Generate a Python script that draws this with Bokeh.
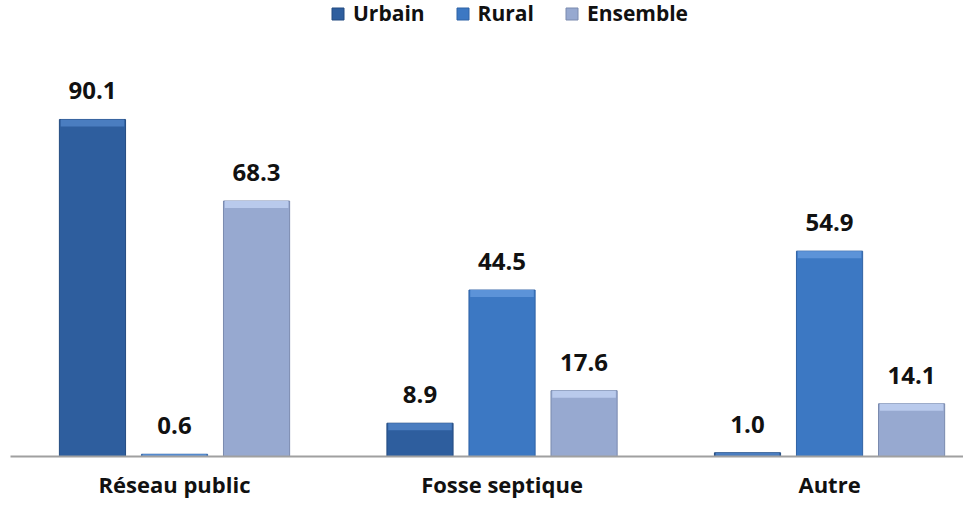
from bokeh.plotting import figure
from bokeh.models import ColumnDataSource, LabelSet, Legend, LegendItem, Range1d, FixedTicker
from bokeh.core.properties import value
from bokeh.embed import file_html
from bokeh.resources import INLINE

categories = ["Réseau public", "Fosse septique", "Autre"]
series = ["Urbain", "Rural", "Ensemble"]
urbain = [90.1, 8.9, 1.0]
rural = [0.6, 44.5, 54.9]
ensemble = [68.3, 17.6, 14.1]

fills = ["#2E5E9E", "#3C78C3", "#97A9D0"]
lines = ["#234B80", "#2F62A5", "#7A8AAE"]
tops = ["#4A7DC0", "#5C93D8", "#B9CAEC"]
offsets = [-0.2505, 0.0, 0.2505]
bar_w = 0.202

FONT = "Open Sans"

p = figure(width=963, height=502, output_backend="svg", toolbar_location=None,
           x_range=Range1d(-0.5008, 2.409), y_range=Range1d(0, 121.9),
           min_border_left=10, min_border_right=0, min_border_top=0, min_border_bottom=46)
p.outline_line_color = None
p.xgrid.visible = False
p.ygrid.visible = False
p.yaxis.visible = False
p.background_fill_color = "white"
p.border_fill_color = "white"

px_per_unit = 456 / 121.9
band = 7 / px_per_unit

items = []
for s, vals, f, lc, tc, off in zip(series, [urbain, rural, ensemble], fills, lines, tops, offsets):
    xs = [i + off for i in range(len(categories))]
    src = ColumnDataSource(dict(x=xs, top=vals, lab=[f"{v:.1f}" for v in vals],
                                btop=vals, bbot=[max(v - band, 0) for v in vals]))
    r = p.vbar(x="x", top="top", bottom=0, width=bar_w, source=src,
               fill_color=f, line_color=lc, line_width=1)
    p.vbar(x="x", top="btop", bottom="bbot", width=bar_w * 0.96, source=src,
           fill_color=tc, line_color=None)
    lbl = LabelSet(x="x", y="top", text="lab", source=src, y_offset=20,
                   text_align="center", text_baseline="alphabetic",
                   text_font=value(FONT), text_font_style="bold",
                   text_font_size="24px", text_color="#111111")
    p.add_layout(lbl)
    items.append(LegendItem(label=s, renderers=[r]))

legend = Legend(items=items, orientation="horizontal", location=(320, 429),
                glyph_width=15, glyph_height=15, label_standoff=8, spacing=30,
                padding=0, margin=0, border_line_color=None, background_fill_alpha=0,
                label_text_font=FONT, label_text_font_style="bold",
                label_text_font_size="21px", label_text_color="#111111")
p.add_layout(legend)

p.xaxis.ticker = FixedTicker(ticks=list(range(len(categories))))
p.xaxis.major_label_overrides = {i: c for i, c in enumerate(categories)}
p.xaxis.major_tick_line_color = None
p.xaxis.major_tick_out = 0
p.xaxis.major_tick_in = 0
p.xaxis.minor_tick_line_color = None
p.xaxis.minor_tick_out = 0
p.xaxis.axis_line_color = "#A0A0A0"
p.xaxis.axis_line_width = 2
p.xaxis.major_label_standoff = 12
p.xaxis.major_label_text_font = FONT
p.xaxis.major_label_text_font_style = "bold"
p.xaxis.major_label_text_font_size = "22px"
p.xaxis.major_label_text_color = "#111111"

open("out.html", "w").write(file_html(p, INLINE))
